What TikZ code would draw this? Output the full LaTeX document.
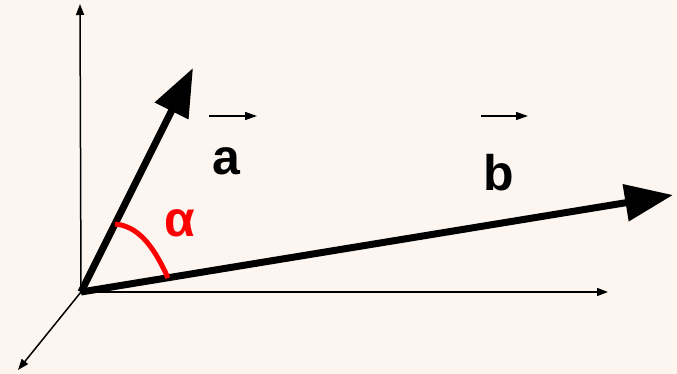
\documentclass[tikz,border=0pt]{standalone}
\usepackage{fontspec}
\setmainfont{Liberation Sans}
\usetikzlibrary{arrows.meta}
\definecolor{paperbg}{HTML}{FDF6F0}
\definecolor{anglered}{HTML}{FF0000}

\begin{document}
\begin{tikzpicture}[
  x=1pt,
  y=-1pt,
  line join=round,
  axis/.style={draw=black,line width=1.5pt,-{Triangle[length=11pt,width=8pt]}},
  vec/.style={draw=black,line width=7pt,-{Triangle[length=48pt,width=36pt]}},
  overarrow/.style={draw=black,line width=1.5pt,-{Triangle[length=12pt,width=8pt]}},
  angle/.style={draw=anglered,line width=5pt},
  vlabel/.style={font=\fontsize{50}{50}\selectfont\bfseries,inner sep=0pt}
]
  % Background and page size.
  \fill[paperbg] (0,0) rectangle (677,374);
  \useasboundingbox (0,0) rectangle (677,374);

  % Origin and end points.
  \coordinate (O) at (81,292);
  \coordinate (zaxis) at (80,4);
  \coordinate (xaxis) at (608,292);
  \coordinate (yaxis) at (18,370);
  \coordinate (atip) at (193,68);
  \coordinate (btip) at (673,195);

  % Coordinate axes.
  \draw[axis] (O) -- (zaxis);
  \draw[axis] (O) -- (xaxis);
  \draw[axis] (O) -- (yaxis);

  % The two vectors.
  \draw[vec] (O) -- (atip);
  \draw[vec] (O) -- (btip);

  % Angle between them.
  \coordinate (arcA) at (115,224);
  \coordinate (arcB) at (168,278);
  \draw[angle] (arcA) .. controls (136,226) and (152,242) .. (arcB);
  \node[vlabel,text=anglered] (lalpha) at (180,223) {α};

  % Vector names with arrows above.
  \node[vlabel] (la) at (226,161) {a};
  \node[vlabel] (lb) at (499,173) {b};
  \coordinate (aleft) at (209,116);
  \coordinate (aright) at (257,116);
  \coordinate (bleft) at (481,116);
  \coordinate (bright) at (528,116);
  \draw[overarrow] (aleft) -- (aright);
  \draw[overarrow] (bleft) -- (bright);
\end{tikzpicture}
\end{document}
